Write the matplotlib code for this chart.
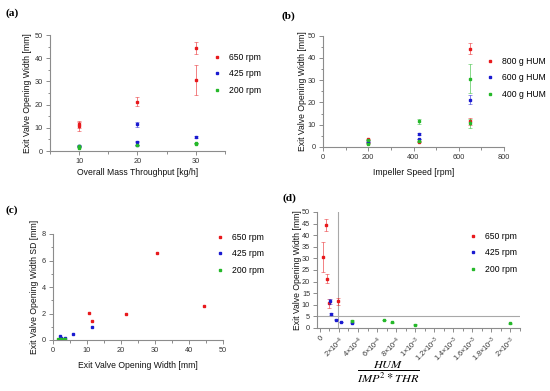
import numpy as np
import matplotlib
matplotlib.use('Agg')
import matplotlib.pyplot as plt
from matplotlib.ticker import MultipleLocator, FixedLocator

plt.rcParams['font.family'] = ['Liberation Sans', 'DejaVu Sans']
plt.rcParams['mathtext.fontset'] = 'custom'
plt.rcParams['mathtext.rm'] = 'Liberation Sans'
plt.rcParams['mathtext.it'] = 'Liberation Sans:italic'

RED, BLUE, GREEN = '#e8191c', '#1a1ad0', '#25b82a'

# (a) opening width vs throughput, by impeller speed
a_650_x = [10, 10, 20, 30, 30]
a_650_y = [11.5, 10.7, 21.3, 44.2, 30.6]
a_650_sd = [1.45, 2.0, 1.95, 2.6, 6.55]
a_425_x = [10, 10, 20, 20, 20, 30]
a_425_y = [2.3, 2.0, 11.5, 4.0, 2.6, 6.0]
a_425_sd = [0.25, 0.15, 1.0, 0.2, 0.15, 0.45]
a_200_x = [10, 10, 20, 30, 30]
a_200_y = [1.5, 2.0, 2.4, 3.4, 3.2]
a_200_sd = [0.08, 0.1, 0.1, 0.1, 0.08]

# (b) opening width vs impeller speed, by humidity mass
b_800_x = [200, 200, 425, 650, 650]
b_800_y = [3.4, 2.0, 2.3, 44.2, 11.5]
b_800_sd = [0.1, 0.1, 0.25, 2.6, 1.45]
b_600_x = [200, 425, 425, 650]
b_600_y = [2.4, 6.0, 3.6, 21.3]
b_600_sd = [0.1, 0.45, 0.2, 1.95]
b_400_x = [200, 200, 425, 425, 650, 650]
b_400_y = [1.5, 3.2, 11.5, 2.6, 30.6, 10.7]
b_400_sd = [0.08, 0.08, 1.0, 0.15, 6.55, 2.0]

# (c) standard deviation vs mean opening width
c_650_x = [10.5, 11.5, 21.4, 30.6, 44.3]
c_650_y = [2.05, 1.45, 1.95, 6.55, 2.6]
c_425_x = [2.2, 2.4, 3.6, 5.9, 11.5]
c_425_y = [0.28, 0.15, 0.18, 0.45, 1.0]
c_200_x = [1.5, 2.0, 2.4, 3.2, 3.4]
c_200_y = [0.08, 0.1, 0.1, 0.08, 0.1]

# (d) opening width vs HUM / (IMP^2 * THR)
d_650_x = [1.9e-4, 0.95e-4, 0.75e-4, 0.68e-4, 0.32e-4]
d_650_y = [11.5, 10.7, 21.3, 44.2, 30.6]
d_650_sd = [1.45, 2.0, 1.95, 2.6, 6.55]
d_425_x = [3.35e-4, 2.25e-4, 1.72e-4, 1.2e-4, 1.1e-4]
d_425_y = [2.3, 2.6, 3.6, 6.0, 11.5]
d_425_sd = [0.28, 0.15, 0.18, 0.45, 1.0]
d_200_x = [3.4e-4, 6.7e-4, 7.6e-4, 1.0e-3, 2.0e-3]
d_200_y = [3.2, 3.4, 2.4, 1.5, 2.0]
d_200_sd = [0.08, 0.1, 0.1, 0.08, 0.1]
d_ticks = [0, 2e-4, 4e-4, 6e-4, 8e-4, 1e-3, 1.2e-3, 1.4e-3, 1.6e-3, 1.8e-3, 2e-3]
d_ticklabels = ['0', r'$2{\times}10^{-4}$', r'$4{\times}10^{-4}$', r'$6{\times}10^{-4}$',
                r'$8{\times}10^{-4}$', r'$1{\times}10^{-3}$', r'$1.2{\times}10^{-3}$',
                r'$1.4{\times}10^{-3}$', r'$1.6{\times}10^{-3}$', r'$1.8{\times}10^{-3}$',
                r'$2{\times}10^{-3}$']

W, H = 550, 391
fig = plt.figure(figsize=(5.5, 3.91), dpi=100)


def px_axes(left, right, top, bottom):
    return fig.add_axes([left / W, 1 - bottom / H, (right - left) / W, (bottom - top) / H])


def style(ax):
    for s in ['top', 'right']:
        ax.spines[s].set_visible(False)
    for s in ['left', 'bottom']:
        ax.spines[s].set_color('#8c8c8c')
        ax.spines[s].set_linewidth(0.8)
    ax.tick_params(which='both', direction='out', color='#8c8c8c', width=0.7,
                   labelsize=5.3, labelcolor='#333333', pad=2)
    ax.tick_params(which='major', length=3)
    ax.tick_params(which='minor', length=1.8)


def pts(ax, x, y, sd, c, label):
    ax.errorbar(x, y, yerr=sd, fmt='none', ecolor=c, elinewidth=0.7,
                capsize=1.2, capthick=0.6, alpha=0.55)
    ax.plot(x, y, 's', ms=2, color=c, label=label, ls='none')


def legend(ax, x, y):
    ax.legend(loc='upper left', bbox_to_anchor=(x / W, 1 - y / H),
              bbox_transform=fig.transFigure, frameon=False, fontsize=6.2,
              handlelength=1, handletextpad=0.9, labelspacing=0.85,
              borderpad=0, borderaxespad=0, markerscale=1.0)


def panel(x, y, s):
    fig.text(x / W, 1 - y / H, s, family='Liberation Serif', weight='bold',
             fontsize=8.2, ha='center', va='center')


lab = dict(fontsize=6.2, color='#111111')

# ---- (a)
ax = px_axes(50, 225, 35, 151)
style(ax)
pts(ax, a_650_x, a_650_y, a_650_sd, RED, '650 rpm')
pts(ax, a_425_x, a_425_y, a_425_sd, BLUE, '425 rpm')
pts(ax, a_200_x, a_200_y, a_200_sd, GREEN, '200 rpm')
ax.set_xlim(5, 35)
ax.set_ylim(0, 50)
ax.set_xticks([10, 20, 30])
ax.xaxis.set_minor_locator(MultipleLocator(5))
ax.yaxis.set_major_locator(MultipleLocator(10))
ax.yaxis.set_minor_locator(MultipleLocator(5))
ax.set_xlabel('Overall Mass Throughput [kg/h]', **lab)
ax.set_ylabel('Exit Valve Opening Width [mm]', **lab)
ax.xaxis.set_label_coords(0.5, -0.15)
ax.yaxis.set_label_coords(-0.105, 0.5)
legend(ax, 213, 53)
panel(12, 13, '(a)')

# ---- (b)
ax = px_axes(323, 504, 35.7, 147)
style(ax)
pts(ax, b_800_x, b_800_y, b_800_sd, RED, '800 g HUM')
pts(ax, b_600_x, b_600_y, b_600_sd, BLUE, '600 g HUM')
pts(ax, b_400_x, b_400_y, b_400_sd, GREEN, '400 g HUM')
ax.set_xlim(0, 800)
ax.set_ylim(0, 50)
ax.xaxis.set_major_locator(MultipleLocator(200))
ax.xaxis.set_minor_locator(MultipleLocator(100))
ax.yaxis.set_major_locator(MultipleLocator(10))
ax.yaxis.set_minor_locator(MultipleLocator(5))
ax.set_xlabel('Impeller Speed [rpm]', **lab)
ax.set_ylabel('Exit Valve Opening Width [mm]', **lab)
ax.xaxis.set_label_coords(0.5, -0.19)
ax.yaxis.set_label_coords(-0.09, 0.5)
legend(ax, 486, 57)
panel(288, 16, '(b)')

# ---- (c)
ax = px_axes(53, 223, 234, 340)
style(ax)
ax.plot(c_650_x, c_650_y, 's', ms=2, color=RED, label='650 rpm')
ax.plot(c_425_x, c_425_y, 's', ms=2, color=BLUE, label='425 rpm')
ax.plot(c_200_x, c_200_y, 's', ms=2, color=GREEN, label='200 rpm')
ax.set_xlim(0, 50)
ax.set_ylim(0, 8)
ax.xaxis.set_major_locator(MultipleLocator(10))
ax.xaxis.set_minor_locator(MultipleLocator(5))
ax.yaxis.set_major_locator(MultipleLocator(2))
ax.yaxis.set_minor_locator(MultipleLocator(1))
ax.set_xlabel('Exit Valve Opening Width [mm]', **lab)
ax.set_ylabel('Exit Valve Opening Width SD [mm]', **lab)
ax.xaxis.set_label_coords(0.5, -0.2)
ax.yaxis.set_label_coords(-0.085, 0.5)
legend(ax, 216, 233)
panel(12, 210, '(c)')

# ---- (d)
ax = px_axes(317, 520, 212, 328)
style(ax)
ax.axhline(5, color='#a8a8a8', lw=0.8, zorder=0)
ax.axvline(1.92e-4, color='#a8a8a8', lw=0.8, zorder=0)
pts(ax, d_650_x, d_650_y, d_650_sd, RED, '650 rpm')
pts(ax, d_425_x, d_425_y, d_425_sd, BLUE, '425 rpm')
pts(ax, d_200_x, d_200_y, d_200_sd, GREEN, '200 rpm')
ax.set_xlim(-3e-5, 2.1e-3)
ax.set_ylim(0, 50)
ax.xaxis.set_major_locator(FixedLocator(d_ticks))
ax.set_xticklabels(d_ticklabels, rotation=45, ha='right', rotation_mode='anchor')
ax.xaxis.set_minor_locator(MultipleLocator(1e-4))
ax.yaxis.set_major_locator(MultipleLocator(5))
ax.set_ylabel('Exit Valve Opening Width [mm]', **lab)
ax.yaxis.set_label_coords(-0.075, 0.5)
fig.text(388 / W, 1 - 372 / H, r'$\dfrac{HUM}{IMP^2 * THR}$', math_fontfamily='stix',
         fontsize=8.8, ha='center', va='center')
legend(ax, 469, 232)
panel(289, 198, '(d)')

fig.savefig('out.png', dpi=100)
